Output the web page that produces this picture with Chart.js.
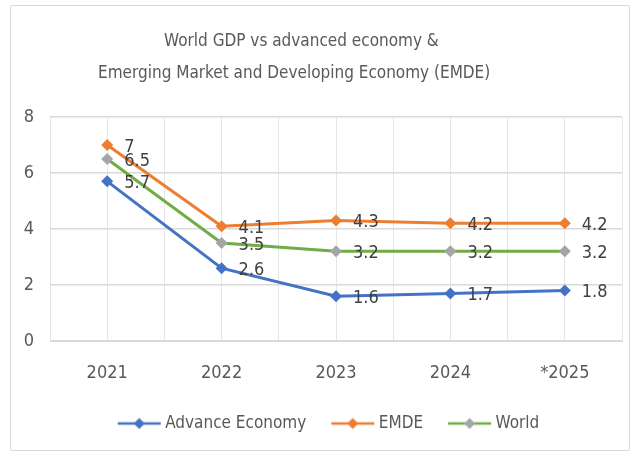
<!DOCTYPE html>
<html>
<head>
<meta charset="utf-8">
<script src="https://cdn.jsdelivr.net/npm/chart.js@4"></script>
<style>
  html, body { margin: 0; padding: 0; background: #fff; }
  .frame {
    position: absolute; left: 10px; top: 5px; width: 620px; height: 446px;
    border: 1px solid #d9d9d9; border-radius: 2px; box-sizing: border-box;
  }
  .wrap { position: absolute; left: 0; top: 0; width: 636px; height: 457px; }
</style>
</head>
<body>
<div class="frame"></div>
<div class="wrap"><canvas class="chart" width="636" height="457"></canvas></div>
<script>
(function() {

    let years = ['2021', '2022', '2023', '2024', '*2025'];

    let advanceEconomy = [5.7, 2.6, 1.6, 1.7, 1.8];
    let emde = [7, 4.1, 4.3, 4.2, 4.2];
    let world = [6.5, 3.5, 3.2, 3.2, 3.2];

    let yTicks = [0, 2, 4, 6, 8];

    // trailing spaces nudge the centred lines to the left, as in the original
    let titleLines = [
        'World GDP vs advanced economy &      ',
        'Emerging Market and Developing Economy (EMDE)         '
    ];

    let font = "'DejaVu Sans Condensed', 'Open Sans', sans-serif";
    let textColor = '#595959';

    let ctx = document.querySelector('.chart');

    /**
     * Line + diamond image used as legend symbol
     */
    let legendSymbol = (lineColor, markColor) => {
        let c = document.createElement('canvas');
        c.width = 74;
        c.height = 14;
        let g = c.getContext('2d');
        g.strokeStyle = lineColor;
        g.lineWidth = 2.5;
        g.beginPath();
        g.moveTo(30, 7);
        g.lineTo(73, 7);
        g.stroke();
        g.fillStyle = markColor;
        g.beginPath();
        g.moveTo(51.5, 1.5);
        g.lineTo(57, 7);
        g.lineTo(51.5, 12.5);
        g.lineTo(46, 7);
        g.closePath();
        g.fill();
        return c;
    };

    let series = [
        { label: 'Advance Economy', data: advanceEconomy, line: '#4472C4', mark: '#4472C4' },
        { label: 'EMDE', data: emde, line: '#ED7D31', mark: '#ED7D31' },
        { label: 'World', data: world, line: '#70AD47', mark: '#A5A5A5' }
    ];

    let datasets = series.map(s => ({
        label: s.label,
        data: s.data.map((v, i) => ({ x: i, y: v })),
        borderColor: s.line,
        backgroundColor: s.mark,
        pointBackgroundColor: s.mark,
        pointBorderColor: s.mark,
        borderWidth: 3,
        pointStyle: 'rectRot',
        pointRadius: 6,
        pointBorderWidth: 0,
        tension: 0,
        symbol: legendSymbol(s.line, s.mark)
    }));

    /**
     * Writes the value to the right of every point
     */
    let valueLabels = {
        id: 'valueLabels',
        afterDatasetsDraw(chart) {
            let g = chart.ctx;
            g.save();
            g.font = `18px ${font}`;
            g.fillStyle = '#404040';
            g.textAlign = 'left';
            g.textBaseline = 'middle';
            chart.data.datasets.forEach((ds, di) => {
                chart.getDatasetMeta(di).data.forEach((pt, i) => {
                    g.fillText(String(series[di].data[i]), pt.x + 17, pt.y + 2);
                });
            });
            g.restore();
        }
    };

    new Chart(ctx, {
        type: 'line',
        data: { datasets: datasets },
        plugins: [valueLabels],
        options: {
            responsive: false,
            animation: false,
            layout: { padding: { left: 10, right: 14, top: 10, bottom: 15 } },
            scales: {
                x: {
                    type: 'linear',
                    min: -0.5,
                    max: years.length - 0.5,
                    grid: { color: '#e6e6e6', drawTicks: false },
                    border: { color: '#d9d9d9' },
                    afterBuildTicks: scale => {
                        scale.ticks = [];
                        for (let v = -0.5; v <= years.length - 0.5; v += 0.5) {
                            scale.ticks.push({ value: v });
                        }
                    },
                    afterFit: scale => {
                        scale.height = 74;
                        scale.paddingLeft = 0;
                        scale.paddingRight = 0;
                    },
                    ticks: {
                        autoSkip: false,
                        maxRotation: 0,
                        padding: 22,
                        color: textColor,
                        font: { family: font, size: 18 },
                        callback: v => Number.isInteger(v) ? years[v] : ''
                    }
                },
                y: {
                    min: 0,
                    max: 8,
                    afterBuildTicks: scale => {
                        scale.ticks = yTicks.map(v => ({ value: v }));
                    },
                    afterFit: scale => { scale.width = 40; },
                    grid: { color: '#d9d9d9', lineWidth: 1.5, drawTicks: false },
                    border: { display: false },
                    ticks: {
                        padding: 16,
                        color: textColor,
                        font: { family: font, size: 18 }
                    }
                }
            },
            plugins: {
                title: {
                    display: true,
                    text: titleLines,
                    color: textColor,
                    font: { family: font, size: 17, weight: 'normal', lineHeight: 1.88 },
                    padding: { top: 16, bottom: 27 }
                },
                legend: {
                    position: 'bottom',
                    labels: {
                        usePointStyle: true,
                        pointStyleWidth: 64,
                        padding: 0,
                        color: textColor,
                        font: { family: font, size: 17 },
                        generateLabels: chart => chart.data.datasets.map((ds, i) => ({
                            text: ds.label,
                            pointStyle: ds.symbol,
                            fontColor: textColor,
                            lineWidth: 0,
                            strokeStyle: 'transparent',
                            fillStyle: 'transparent',
                            datasetIndex: i
                        }))
                    }
                },
                tooltip: { enabled: false }
            }
        }
    });

})();
</script>
</body>
</html>
